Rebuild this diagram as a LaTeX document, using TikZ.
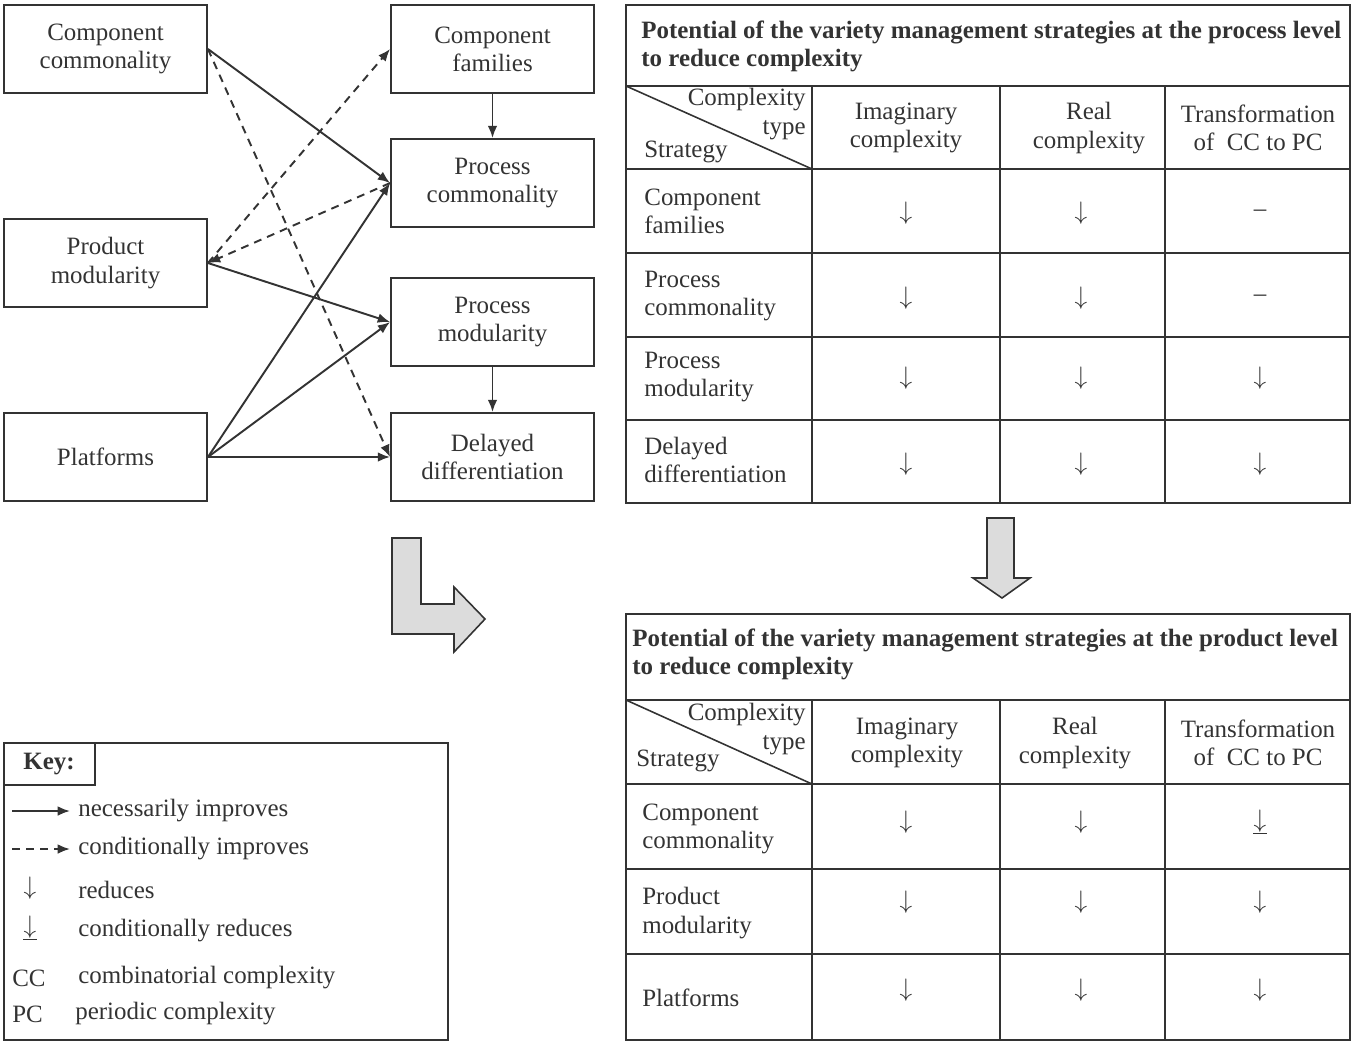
\documentclass[tikz,border=0pt]{standalone}
\usepackage{fontspec}
\setmainfont{Liberation Serif}
\usetikzlibrary{arrows.meta}
\definecolor{ink}{HTML}{333333}
\definecolor{shade}{HTML}{DCDCDC}
\newcommand{\reduc}{$\downarrow$}
\newcommand{\condreduc}{\ooalign{$\downarrow$\cr\hidewidth\rule[-0.27em]{0.55em}{0.5pt}\hidewidth\cr}}

\begin{document}
\begin{tikzpicture}[
        x=0.02cm, y=-0.02cm,
        font=\fontsize{14.2}{16}\selectfont,
        color=ink,
        >={Latex[length=7pt,width=5.5pt]},
        box/.style     ={draw, line width=1.1pt, minimum width=4.06cm, minimum height=1.76cm,
                         align=center, inner sep=2pt},
        imp/.style     ={->, line width=1.1pt},
        cimp/.style    ={->, line width=1.1pt, dash pattern=on 4.5pt off 3.5pt},
        grid/.style    ={line width=1.1pt},
        cell/.style    ={align=center, inner sep=0pt},
        lbl/.style     ={anchor=west, align=left, inner sep=0pt},
        ttl/.style     ={anchor=west, align=left, inner sep=0pt, font=\fontsize{14.2}{16}\selectfont\bfseries},
        bigarrow/.style={draw, fill=shade, line width=0.9pt, line join=miter}
    ]
    \useasboundingbox (0,0) rectangle (1354,1042);

    % strategies and how they act on each other
    \node[box] (cc)   at (105.5,49)  {Component\\commonality};
    \node[box] (pm)   at (105.5,263) {Product\\modularity};
    \node[box] (pf)   at (105.5,457) {Platforms};
    \node[box] (cf)   at (492.5,49)  {Component\\families};
    \node[box] (pcom) at (492.5,183) {Process\\commonality};
    \node[box] (pmod) at (492.5,322) {Process\\modularity};
    \node[box] (dd)   at (492.5,457) {Delayed\\differentiation};

    \draw[imp]  (cf) -- (pcom);
    \draw[imp]  (pmod) -- (dd);
    \draw[imp]  (cc.east) -- (pcom.west);
    \draw[cimp] (cc.east) -- (dd.west);
    \draw[cimp] (pm.east) -- (cf.west);
    \draw[cimp] (pcom.west) -- (pm.east);
    \draw[imp]  (pm.east) -- (pmod.west);
    \draw[imp]  (pf.east) -- (pcom.west);
    \draw[imp]  (pf.east) -- (pmod.west);
    \draw[imp]  (pf.east) -- (dd.west);

    % process level table
    \draw[grid] (626,5) rectangle (1350,503);
    \foreach \y in {86,169,253,337,420}{\draw[grid] (626,\y) -- (1350,\y);}
    \foreach \x in {812,1000,1165}{\draw[grid] (\x,86) -- (\x,503);}
    \draw[line width=0.9pt] (626,86) -- (812,169);
    \node[ttl] (ttla) at (641,46)
          {Potential of the variety management strategies at the process level\\to reduce complexity};
    \node[cell, anchor=east, align=right] (cxa) at (806,114) {Complexity\\type};
    \node[lbl] (sta) at (644,152) {Strategy};
    \node[cell] (ha1) at (906,128)  {Imaginary\\complexity};
    \node[cell] (ha2) at (1089,128) {Real\\complexity};
    \node[cell] (ha3) at (1258,128) {Transformation\\of\ \ CC to PC};
    \node[lbl] (ra1) at (644,211) {Component\\families};
    \node[lbl] (ra2) at (644,296) {Process\\commonality};
    \node[lbl] (ra3) at (644,377) {Process\\modularity};
    \node[lbl] (ra4) at (644,460) {Delayed\\differentiation};
    \foreach \y/\c in {213/\textendash, 298/\textendash, 378/\reduc, 464/\reduc}{
        \node[cell] (va\y) at (906,\y)  {\reduc};
        \node[cell] (wa\y) at (1081,\y) {\reduc};
        \node[cell] (xa\y) at (1260,\y) {\c};
    }

    \draw[bigarrow] (987,518) -- (1014,518) -- (1014,578) -- (1030,578) -- (1002,598)
                    -- (973,578) -- (987,578) -- cycle;
    \draw[bigarrow] (392,538) -- (421,538) -- (421,604) -- (454,604) -- (454,587)
                    -- (485,619) -- (454,652) -- (454,634) -- (392,634) -- cycle;

    % product level table
    \draw[grid] (626,614) rectangle (1350,1040);
    \foreach \y in {700,784,869,954}{\draw[grid] (626,\y) -- (1350,\y);}
    \foreach \x in {812,1000,1165}{\draw[grid] (\x,700) -- (\x,1040);}
    \draw[line width=0.9pt] (626,700) -- (812,784);
    \node[ttl] (ttlb) at (632,654)
          {Potential of the variety management strategies at the product level\\to reduce complexity};
    \node[cell, anchor=east, align=right] (cxb) at (806,729) {Complexity\\type};
    \node[lbl] (stb) at (636,761) {Strategy};
    \node[cell] (hb1) at (907,743)  {Imaginary\\complexity};
    \node[cell] (hb2) at (1075,743) {Real\\complexity};
    \node[cell] (hb3) at (1258,743) {Transformation\\of\ \ CC to PC};
    \node[lbl] (rb1) at (642,829) {Component\\commonality};
    \node[lbl] (rb2) at (642,913) {Product\\modularity};
    \node[lbl] (rb3) at (642,998) {Platforms};
    \foreach \y/\c in {822/\condreduc, 902/\reduc, 990/\reduc}{
        \node[cell] (vb\y) at (906,\y)  {\reduc};
        \node[cell] (wb\y) at (1081,\y) {\reduc};
        \node[cell] (xb\y) at (1260,\y) {\c};
    }

    % key
    \draw[grid] (4,743) rectangle (448,1040);
    \draw[grid] (4,743) rectangle (95,785);
    \node[font=\fontsize{14.2}{16}\selectfont\bfseries] (keyt) at (49,764) {Key:};
    \coordinate (ka) at (12,811);  \coordinate (kb) at (70,811);
    \coordinate (kc) at (12,849);  \coordinate (kd) at (70,849);
    \draw[imp]  (ka) -- (kb);
    \draw[cimp] (kc) -- (kd);
    \node[lbl] (k1) at (78,811) {necessarily improves};
    \node[lbl] (k2) at (78,849) {conditionally improves};
    \node[cell] (k3s) at (30,888) {\reduc};
    \node[lbl] (k3) at (78,890) {reduces};
    \node[cell] (k4s) at (30,928) {\condreduc};
    \node[lbl] (k4) at (78,931) {conditionally reduces};
    \node[lbl] (k5s) at (12,978) {CC};
    \node[lbl] (k5) at (78,978) {combinatorial complexity};
    \node[lbl] (k6s) at (12,1014) {PC};
    \node[lbl] (k6) at (75,1014) {periodic complexity};
\end{tikzpicture}
\end{document}
